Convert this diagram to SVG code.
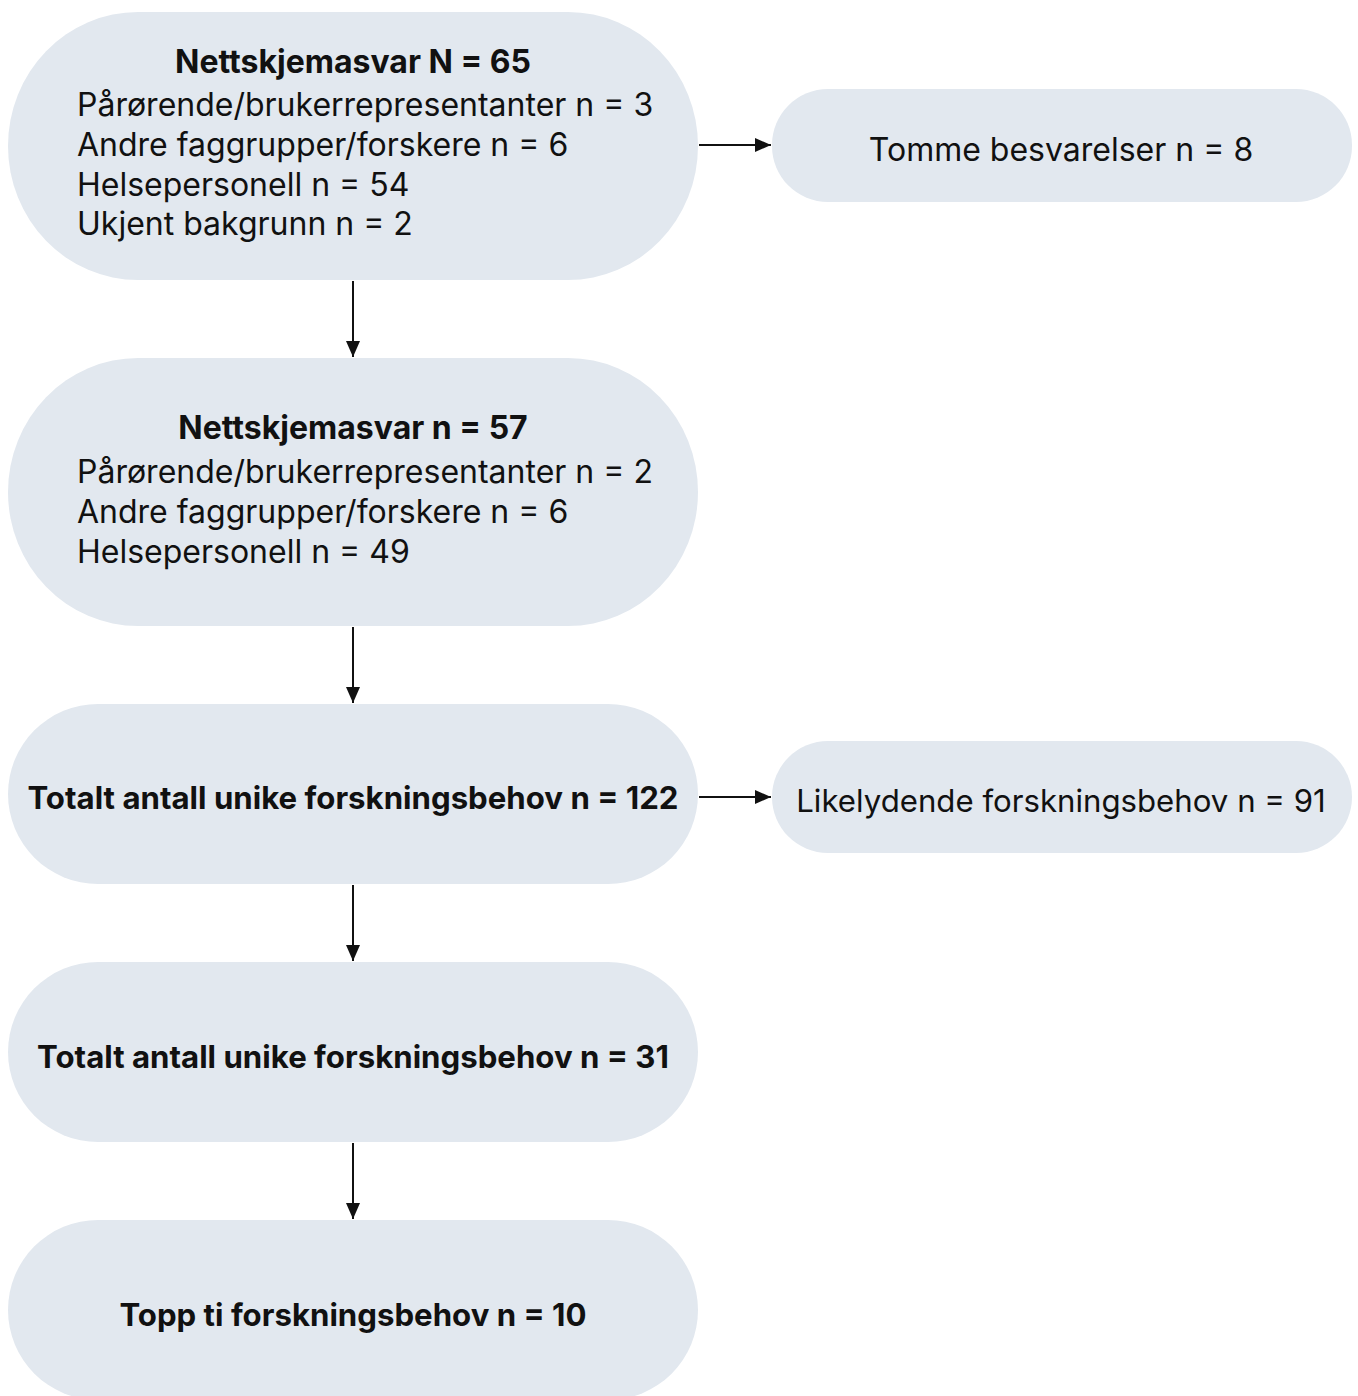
<svg xmlns="http://www.w3.org/2000/svg" width="1358" height="1396" viewBox="0 0 1358 1396">
<style>
.box{fill:#E2E8EF;}
text{font-family:Inter,"Noto Sans","Liberation Sans",sans-serif;font-size:32px;fill:#111;}
.b{font-weight:bold;}
.c{text-anchor:middle;}
.s{font-size:31.2px;}
.edge{stroke:#111;stroke-width:2;fill:none;marker-end:url(#ah);}
</style>
<defs>
<marker id="ah" viewBox="0 0 16 14" refX="16" refY="7" markerWidth="16" markerHeight="14" orient="auto" markerUnits="userSpaceOnUse">
<path d="M0,0 L16,7 L0,14 z" fill="#111"/>
</marker>
</defs>
<rect width="1358" height="1396" fill="#fff"/>
<g id="connectors">
<line class="edge" x1="353" y1="281" x2="353" y2="357"/>
<line class="edge" x1="353" y1="627" x2="353" y2="703"/>
<line class="edge" x1="353" y1="885" x2="353" y2="961"/>
<line class="edge" x1="353" y1="1143" x2="353" y2="1219"/>
<line class="edge" x1="699" y1="145" x2="771" y2="145"/>
<line class="edge" x1="699" y1="797" x2="771" y2="797"/>
</g>
<g id="n1">
<rect class="box" x="8" y="12" width="690" height="268" rx="130" ry="134"/>
<text class="b c" x="353" y="73">Nettskjemasvar N = 65</text>
<text x="77" y="116">Pårørende/brukerrepresentanter n = 3</text>
<text x="77" y="156">Andre faggrupper/forskere n = 6</text>
<text x="77" y="196">Helsepersonell n = 54</text>
<text x="77" y="235">Ukjent bakgrunn n = 2</text>
</g>
<g id="n2">
<rect class="box" x="8" y="358" width="690" height="268" rx="130" ry="134"/>
<text class="b c" x="353" y="439">Nettskjemasvar n = 57</text>
<text x="77" y="483">Pårørende/brukerrepresentanter n = 2</text>
<text x="77" y="523">Andre faggrupper/forskere n = 6</text>
<text x="77" y="563">Helsepersonell n = 49</text>
</g>
<g id="n3">
<rect class="box" x="8" y="704" width="690" height="180" rx="90" ry="90"/>
<text class="b c s" x="353" y="809">Totalt antall unike forskningsbehov n = 122</text>
</g>
<g id="n4">
<rect class="box" x="8" y="962" width="690" height="180" rx="90" ry="90"/>
<text class="b c s" x="353" y="1068">Totalt antall unike forskningsbehov n = 31</text>
</g>
<g id="n5">
<rect class="box" x="8" y="1220" width="690" height="180" rx="90" ry="90"/>
<text class="b c s" x="353" y="1326">Topp ti forskningsbehov n = 10</text>
</g>
<g id="r1">
<rect class="box" x="772" y="89" width="580" height="113" rx="56" ry="56"/>
<text class="c" x="1061" y="161">Tomme besvarelser n = 8</text>
</g>
<g id="r2">
<rect class="box" x="772" y="741" width="580" height="112" rx="56" ry="56"/>
<text class="c s" x="1061" y="812">Likelydende forskningsbehov n = 91</text>
</g>
</svg>
